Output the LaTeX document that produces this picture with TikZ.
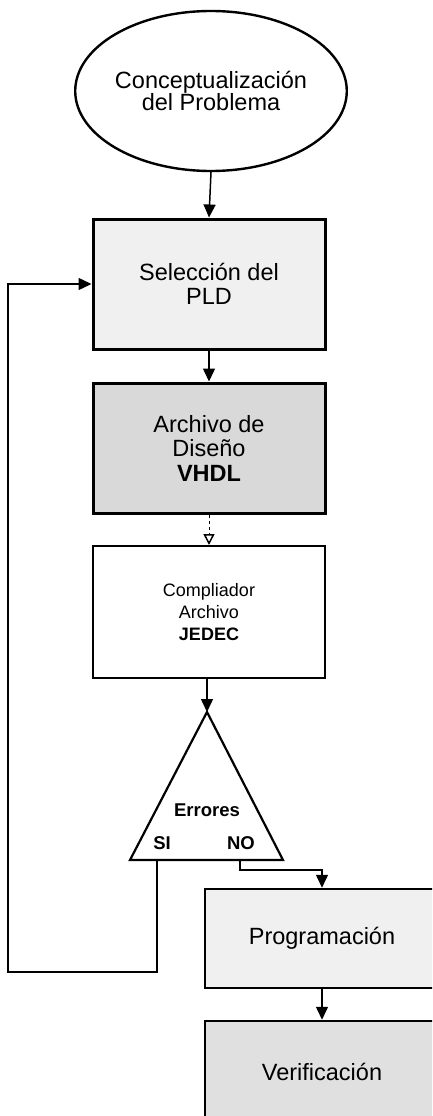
\documentclass[tikz,border=0pt]{standalone}
\usepackage{fontspec}
\setmainfont{Liberation Sans}
\usetikzlibrary{shapes.geometric,arrows.meta}
\begin{document}
\begin{tikzpicture}[x=1pt,y=-1pt,
  big/.style={font=\fontsize{23.5}{24.5}\selectfont},
  small/.style={font=\fontsize{18}{22}\selectfont},
  stepbox/.style={draw=black,rectangle,inner sep=0pt,align=center,minimum width=232pt},
  conn/.style={draw=black,line width=1.5pt,-{Triangle[width=12pt,length=13pt]}},
  plain/.style={draw=black,line width=1.5pt},
  lbl/.style={font=\fontsize{18.5}{20}\selectfont\bfseries,inner sep=0pt}
]
\useasboundingbox (0,0) rectangle (432,1116);
\clip (0,0) rectangle (432,1116);
\fill[white] (0,0) rectangle (432,1116);

\node[ellipse,draw=black,line width=2.4pt,fill=white,minimum width=230pt,minimum height=160pt,inner sep=0pt,big,align=center]
  (ell) at (211,91) {Conceptualización\\[-3pt]del Problema};

\node[stepbox,big,line width=3pt,fill=gray!12,minimum height=130pt] (b1) at (209,284) {Selección del\\PLD};
\node[stepbox,big,line width=3pt,fill=gray!30,minimum height=130pt] (b2) at (209,448) {Archivo de\\Diseño\\\textbf{VHDL}};
\node[stepbox,small,line width=2pt,fill=white,minimum height=132pt] (b3) at (209,612) {Compliador\\Archivo\\\textbf{JEDEC}};

% decision triangle
\coordinate (apex) at (207,712);
\coordinate (triL) at (130,860);
\coordinate (triR) at (283,860);
\draw[line width=2.2pt,line join=miter] (apex) -- (triL) -- (triR) -- cycle;
\node[lbl] (err) at (207,810) {Errores};
\node[lbl] (si) at (162,843) {SI};
\node[lbl] (no) at (241,843) {NO};
\coordinate (siout) at (157,860);
\coordinate (noout) at (240,860);
\coordinate (fb) at (8,972);

\node[stepbox,big,line width=2.5pt,fill=gray!12,minimum width=234pt,minimum height=99pt] (prog) at (322,938.5) {Programación};
\node[stepbox,big,line width=2.5pt,fill=gray!24,minimum width=234pt,minimum height=140pt] (verif) at (322,1091) {};
\node[big,inner sep=0pt] (verift) at (322,1072) {Verificación};

% connectors
\draw[conn] (ell.south) -- (b1.north);
\draw[conn] (b1.south) -- (b2.north);
\draw[line width=1pt,dashed,-{Triangle[open,width=11pt,length=11pt,line width=1.5pt]}] (b2.south) -- (b3.north);
\draw[conn] (b3.south -| apex) -- (apex);
\draw[plain,-{Triangle[width=12pt,length=13pt]}] (siout) |- (fb) |- (b1.west);
\draw[plain,-{Triangle[width=12pt,length=13pt]}] (noout) -- ++(0,10) -| (prog.north);
\draw[conn] (prog.south) -- (verif.north);
\end{tikzpicture}
\end{document}
